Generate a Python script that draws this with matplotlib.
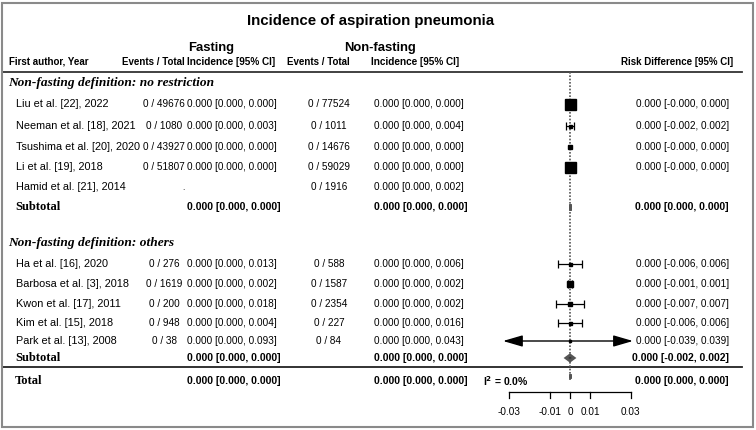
import matplotlib
matplotlib.use("Agg")
import matplotlib.pyplot as plt
import matplotlib.transforms as mtransforms
from matplotlib.patches import Rectangle

# ---- data ----
title = "Incidence of aspiration pneumonia"

studies1 = ["Liu et al. [22], 2022", "Neeman et al. [18], 2021", "Tsushima et al. [20], 2020",
            "Li et al. [19], 2018", "Hamid et al. [21], 2014"]
fast_events1 = [0, 0, 0, 0, None]
fast_total1 = [49676, 1080, 43927, 51807, None]
fast_hi1 = [0.000, 0.003, 0.000, 0.000, None]
non_events1 = [0, 0, 0, 0, 0]
non_total1 = [77524, 1011, 14676, 59029, 1916]
non_hi1 = [0.000, 0.004, 0.000, 0.000, 0.002]
rd_lo1 = [-0.0, -0.002, -0.0, -0.0, None]
rd_hi1 = [0.000, 0.002, 0.000, 0.000, None]
weight1 = [11, 3, 4, 11, None]   # square size (px)

studies2 = ["Ha et al. [16], 2020", "Barbosa et al. [3], 2018", "Kwon et al. [17], 2011",
            "Kim et al. [15], 2018", "Park et al. [13], 2008"]
fast_events2 = [0, 0, 0, 0, 0]
fast_total2 = [276, 1619, 200, 948, 38]
fast_hi2 = [0.013, 0.002, 0.018, 0.004, 0.093]
non_events2 = [0, 0, 0, 0, 0]
non_total2 = [588, 1587, 2354, 227, 84]
non_hi2 = [0.006, 0.002, 0.002, 0.016, 0.043]
rd_lo2 = [-0.006, -0.001, -0.007, -0.006, -0.039]
rd_hi2 = [0.006, 0.001, 0.007, 0.006, 0.039]
weight2 = [3, 6, 4, 3, 2]

sub_rd = [(0.0, 0.0), (-0.002, 0.002)]
total_rd = (0.0, 0.0)
i2 = 0.0
ticks = [-0.03, -0.01, 0, 0.01, 0.03]
tick_labels = ["-0.03", "-0.01", "0", "0.01", "0.03"]

# ---- layout (pixels) ----
W, H = 756, 430
y_rows1 = [104, 126, 147, 167, 187]
y_sub1 = 207
y_rows2 = [264, 284, 304, 323, 341]
y_sub2 = 358
y_total = 381
clip = (-0.033, 0.031)

SANS = "Liberation Sans"
SERIF = "Liberation Serif"
FS_NAME = 7.8
FS = 7.2

fig = plt.figure(figsize=(W / 100, H / 100), dpi=100)
ax = fig.add_axes([0, 0, 1, 1])
ax.set_xlim(-570 / 2030, (W - 570) / 2030)
ax.set_ylim(H, 0)
ax.axis("off")
tr = mtransforms.blended_transform_factory(ax.transAxes, ax.transData)


def put(xpx, ypx, s, **kw):
    kw.setdefault("family", SANS)
    kw.setdefault("fontsize", FS)
    kw.setdefault("va", "center")
    ax.text(xpx / W, ypx, s, transform=tr, **kw)


def ci(hi):
    return "0.000 [0.000, %.3f]" % hi


def rd_txt(lo, hi):
    return "0.000 [%.3f, %.3f]" % (lo, hi)


fig.add_artist(Rectangle((2 / W, 3 / H), 751 / W, 424 / H, transform=fig.transFigure,
                         fill=False, edgecolor="#8a8a8a", lw=1.5))

# headers
put(371, 21, title, fontsize=10.8, weight="bold", ha="center")
put(211, 48, "Fasting", fontsize=9.4, weight="bold", ha="center")
put(380, 48, "Non-fasting", fontsize=9.4, weight="bold", ha="center")
put(9, 62, "First author, Year", fontsize=7.0, weight="bold")
put(153, 62, "Events / Total", fontsize=7.0, weight="bold", ha="center")
put(231, 62, "Incidence [95% CI]", fontsize=7.2, weight="bold", ha="center")
put(318, 62, "Events / Total", fontsize=7.0, weight="bold", ha="center")
put(415, 62, "Incidence [95% CI]", fontsize=7.2, weight="bold", ha="center")
put(733, 62, "Risk Difference [95% CI]", fontsize=7.0, weight="bold", ha="right")
ax.plot([2 / W, 742 / W], [72, 72], transform=tr, color="#333333", lw=1.3)
ax.plot([2 / W, 742 / W], [367, 367], transform=tr, color="#222222", lw=1.3)

put(8, 83, "Non-fasting definition: no restriction", family=SERIF, fontsize=9.6,
    weight="bold", style="italic")
put(8, 243, "Non-fasting definition: others", family=SERIF, fontsize=9.6,
    weight="bold", style="italic")

# zero line
ax.plot([0, 0], [72, 380], color="#555555", lw=1.2, ls=(0, (1, 1)))


def draw_group(ys, names, fe, ft, fhi, ne, nt, nhi, lo, hi, wt):
    for i, y in enumerate(ys):
        put(16, y, names[i], fontsize=FS_NAME)
        if ft[i] is not None:
            put(164, y, "%d / %d" % (fe[i], ft[i]), ha="center")
            put(187, y, ci(fhi[i]))
        else:
            put(182, y + 2, ".", fontsize=6)
        put(329, y, "%d / %d" % (ne[i], nt[i]), ha="center")
        put(374, y, ci(nhi[i]))
        if lo[i] is None:
            continue
        put(729, y, rd_txt(lo[i], hi[i]), ha="right")
        if lo[i] < clip[0]:
            for end in clip:
                ax.annotate("", xy=(end, y), xytext=(0, y),
                            arrowprops=dict(arrowstyle="-|>,head_length=1.2,head_width=0.35",
                                            color="black", lw=1.0, shrinkA=0, shrinkB=0))
        elif hi[i] > lo[i]:
            ax.errorbar([0], [y], xerr=[[0 - lo[i]], [hi[i]]], fmt="none",
                        ecolor="black", elinewidth=0.9, capsize=2.8, capthick=0.9)
        ax.plot([0], [y], marker="s", color="black", markersize=wt[i] * 0.72, ls="none")


def diamond(y, lo, hi, h=3):
    ax.fill([lo, 0, hi, 0], [y, y - h, y, y + h], facecolor="#333333",
            edgecolor="#555555", lw=2.0)


draw_group(y_rows1, studies1, fast_events1, fast_total1, fast_hi1, non_events1,
           non_total1, non_hi1, rd_lo1, rd_hi1, weight1)
draw_group(y_rows2, studies2, fast_events2, fast_total2, fast_hi2, non_events2,
           non_total2, non_hi2, rd_lo2, rd_hi2, weight2)

FSB = 7.5
for y, (lo, hi) in zip([y_sub1, y_sub2], sub_rd):
    put(15, y, "Subtotal", family=SERIF, fontsize=9.0, weight="bold")
    put(187, y, "0.000 [0.000, 0.000]", fontsize=FSB, weight="bold")
    put(374, y, "0.000 [0.000, 0.000]", fontsize=FSB, weight="bold")
    put(729, y, rd_txt(lo, hi) if lo < 0 else "0.000 [0.000, 0.000]",
        fontsize=FSB, weight="bold", ha="right")
    diamond(y, lo, hi)

put(15, y_total, "Total", family=SERIF, fontsize=9.0, weight="bold")
put(187, y_total, "0.000 [0.000, 0.000]", fontsize=FSB, weight="bold")
put(374, y_total, "0.000 [0.000, 0.000]", fontsize=FSB, weight="bold")
put(729, y_total, "0.000 [0.000, 0.000]", fontsize=FSB, weight="bold", ha="right")
put(483, y_total, r"I$^\mathbf{2}$ = %.1f%%" % i2, fontsize=FSB, weight="bold")
diamond(y_total - 5, total_rd[0], total_rd[1], h=2)

# axis bracket
ax.plot([ticks[0], ticks[-1]], [392, 392], color="black", lw=0.9)
for t, lab in zip(ticks, tick_labels):
    ax.plot([t, t], [392, 398], color="black", lw=0.9)
    ax.text(t, 412, lab, ha="center", va="center", family=SANS, fontsize=FS)

fig.savefig("out.png", dpi=100)
